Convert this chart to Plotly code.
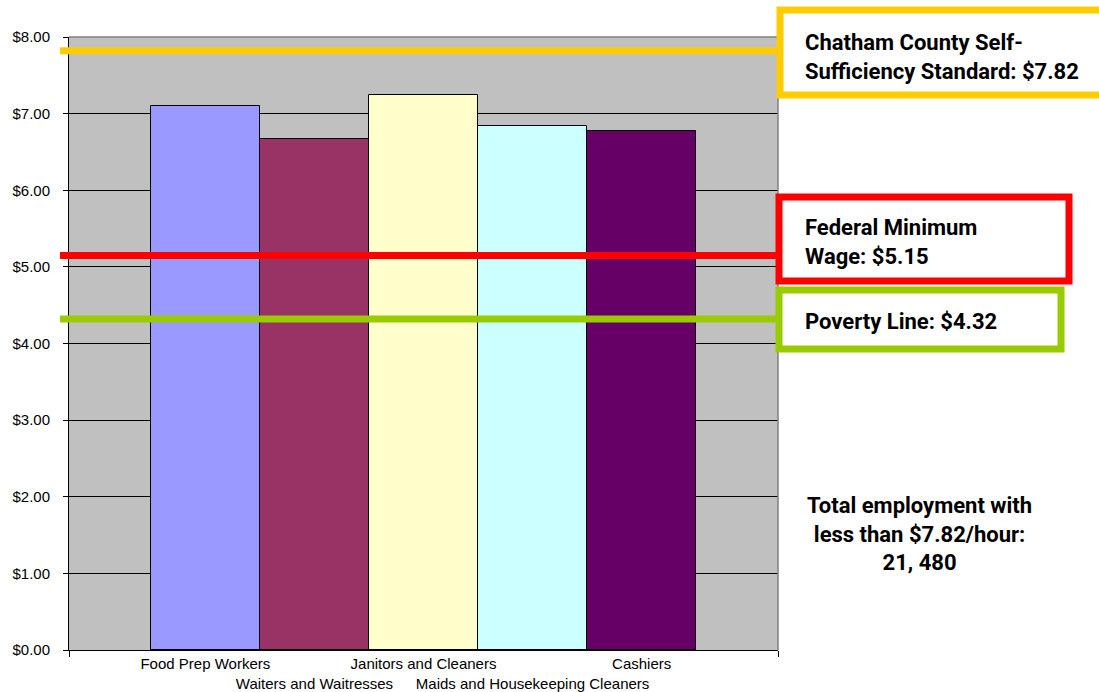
import plotly.graph_objects as go

# Hourly wages by occupation
occupations = ["Food Prep Workers", "Waiters and Waitresses", "Janitors and Cleaners",
               "Maids and Housekeeping Cleaners", "Cashiers"]
wages = [7.10, 6.67, 7.24, 6.84, 6.77]
bar_colors = ["#9999FF", "#993366", "#FFFFCC", "#CCFFFF", "#660066"]

# Reference wage levels
ref_names = ["Chatham County Self-<br>Sufficiency Standard: $7.82",
             "Federal Minimum<br>Wage: $5.15",
             "Poverty Line: $4.32"]
ref_values = [7.82, 5.15, 4.32]
ref_colors = ["#FFCC00", "#FF0000", "#99CC00"]

note_text = "Total employment with<br>less than $7.82/hour:<br>21, 480"

W, H = 1099, 692
L, R, T, B = 69, 778, 37, 650  # plot area in pixels


def px_x(px):
    return (px - L) / (R - L)


def px_y(py):
    return (B - py) / (B - T)


xs = list(range(len(occupations)))
ticktext = [("<br>" + n) if i % 2 else n for i, n in enumerate(occupations)]

fig = go.Figure()
fig.add_trace(go.Bar(
    x=xs, y=wages, width=1.0,
    marker=dict(color=bar_colors, line=dict(color="black", width=1)),
    hoverinfo="skip",
))

label_font = dict(family="Roboto, Liberation Sans, Arial", size=22, color="black")

shapes = []
annotations = []
# boxes (pixel bounds) for each reference label, plus the text centre line
boxes = [(780, 10, 1110, 95, 57), (779, 197, 1069, 281, 242), (779, 290, 1061, 349, 321)]
for name, val, col, (bx0, by0, bx1, by1, ty) in zip(ref_names, ref_values, ref_colors, boxes):
    shapes.append(dict(type="line", xref="paper", yref="y",
                       x0=px_x(60), x1=px_x(bx0), y0=val, y1=val,
                       line=dict(color=col, width=7)))
    shapes.append(dict(type="rect", xref="paper", yref="paper",
                       x0=px_x(bx0), x1=px_x(bx1), y0=px_y(by1), y1=px_y(by0),
                       fillcolor="white", line=dict(color=col, width=7)))
    annotations.append(dict(xref="paper", yref="paper", x=px_x(803),
                            y=px_y(ty), xanchor="left", yanchor="middle",
                            text="<b>" + name + "</b>", showarrow=False, align="left",
                            font=label_font))

annotations.append(dict(xref="paper", yref="paper", x=px_x(920), y=px_y(534),
                        xanchor="center", yanchor="middle", text="<b>" + note_text + "</b>",
                        showarrow=False, align="center", font=label_font))

# top and right plot border
shapes.insert(0, dict(type="line", xref="paper", yref="paper", x0=0, x1=1, y0=1, y1=1,
                      line=dict(color="#808080", width=1.5)))
shapes.insert(0, dict(type="line", xref="paper", yref="paper", x0=1, x1=1, y0=0, y1=1,
                      line=dict(color="#808080", width=1.5)))

fig.update_layout(
    width=W, height=H,
    margin=dict(l=L, r=W - R, t=T, b=H - B),
    plot_bgcolor="#C0C0C0", paper_bgcolor="white",
    showlegend=False, bargap=0,
    font=dict(family="Liberation Sans, Arial", size=15, color="black"),
    xaxis=dict(range=[-1.25, 4 + 1.25], tickvals=xs, ticktext=ticktext, ticks="",
               tickangle=0, automargin=False,
               showline=True, linecolor="black", linewidth=1, showgrid=False,
               zeroline=False, fixedrange=True, tickfont=dict(size=15),
               minor=dict(tickmode="linear", tick0=-1.25, dtick=6.5, ticks="outside",
                          ticklen=6, tickcolor="black", showgrid=False)),
    yaxis=dict(range=[0, 8], dtick=1, tickprefix="$", tickformat=".2f",
               automargin=False,
               showline=True, linecolor="black", linewidth=1,
               showgrid=True, gridcolor="black", gridwidth=1,
               ticks="outside", ticklen=5, tickcolor="black",
               zeroline=False, fixedrange=True, ticklabelstandoff=10,
               tickfont=dict(size=15)),
    shapes=shapes, annotations=annotations,
)

fig.write_html("out.html")
